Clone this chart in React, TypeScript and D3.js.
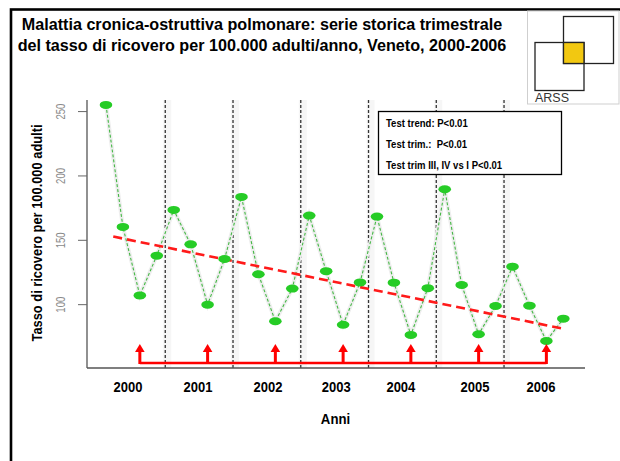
import React from "react";
import * as d3 from "d3";

const titleLines = [
  "Malattia cronica-ostruttiva polmonare: serie storica trimestrale",
  "del tasso di ricovero per 100.000 adulti/anno, Veneto, 2000-2006",
];
const years = ["2000", "2001", "2002", "2003", "2004", "2005", "2006"];
// label positions expressed in quarter-index units
const yearLabelPos = [1.3, 5.43, 9.56, 13.6, 17.41, 21.78, 25.68];
// quarterly rates (Q1..Q4 for each year)
const rates = [
  255.2, 160.4, 107.2, 138.1,
  173.6, 146.9, 100.0, 135.5,
  183.7, 123.6, 87.1, 112.5,
  169.2, 126.0, 84.4, 117.3,
  168.4, 117.1, 76.5, 112.8,
  189.7, 115.3, 77.0, 99.0,
  129.5, 99.2, 71.8, 89.1,
];
const yTicks = [100, 150, 200, 250];
const trendT = [0.43, 26.9];
const trendV = [152.9, 81.6];
const testLines = [
  "Test trend: P<0.01",
  "Test trim.:  P<0.01",
  "Test trim III, IV vs I P<0.01",
];
const yTitle = "Tasso di ricovero per 100.000 adulti";
const xTitle = "Anni";

const SANS = "'Liberation Sans', Arial, sans-serif";

export default function App() {
  const W = 620, H = 461;
  const x = d3.scaleLinear().domain([-1.12, 28.28]).range([87, 585]);
  const y = d3.scaleLinear().domain([50.8, 259]).range([368, 100]);
  const pts = rates.map((v, i) => [x(i), y(v)] as [number, number]);
  const line = d3.line();
  const q3 = d3.range(years.length).map((k) => k * 4 + 2);
  const seps = d3.range(1, years.length).map((k) => k * 4 - 0.5);
  const arrowBase = 363;
  const arrowTip = 344;

  return (
    <div style={{ position: "absolute", left: 0, top: 0 }}>
      <svg width={W} height={H} style={{ display: "block", background: "#fff" }}>
        {/* outer frame */}
        <rect x={11} y={9.5} width={800} height={800} fill="none" stroke="#000" strokeWidth={2.6} />
        {/* logo box */}
        <rect x={527.5} y={11} width={91.5} height={93} fill="#fff" stroke="#cfcfcf" strokeWidth={1} />
        <rect x={563.5} y={16.5} width={50} height={47} fill="none" stroke="#222" strokeWidth={1.3} />
        <rect x={535} y={42.5} width={49} height={48} fill="none" stroke="#222" strokeWidth={1.3} />
        <rect x={563.5} y={42.5} width={20.5} height={21} fill="#F2C811" stroke="#222" strokeWidth={1.3} />
        <text x={535} y={102} fontFamily={SANS} fontSize={12.5} fill="#333">ARSS</text>

        {/* title */}
        {titleLines.map((t, i) => (
          <text key={i} transform={`translate(262,${30 + i * 21}) scale(0.94,1)`} textAnchor="middle"
            fontFamily={SANS} fontWeight="bold" fontSize={17.2} fill="#000">{t}</text>
        ))}

        {/* year separators */}
        {seps.map((s, i) => (
          <g key={i}>
            <rect x={x(s) - 2} y={100} width={8} height={268} fill="#f6f6f6" />
            <line x1={x(s)} x2={x(s)} y1={100} y2={368} stroke="#333" strokeWidth={1.3} strokeDasharray="3,2" />
          </g>
        ))}

        {/* axes */}
        <line x1={87} x2={87} y1={100} y2={368} stroke="#555" strokeWidth={1.3} />
        <line x1={87} x2={585} y1={368} y2={368} stroke="#555" strokeWidth={1.3} />
        {yTicks.map((t) => (
          <g key={t}>
            <line x1={78} x2={87} y1={y(t)} y2={y(t)} stroke="#666" strokeWidth={1} />
            <text transform={`translate(61,${y(t)}) rotate(-90) scale(0.8,1.05)`} textAnchor="middle"
              dominantBaseline="central" fontFamily={SANS} fontSize={12} fill="#8a8a8a">{t}</text>
          </g>
        ))}
        <text transform={`translate(37,233) rotate(-90) scale(0.92,1.05)`} textAnchor="middle" dominantBaseline="central"
          fontFamily={SANS} fontWeight="bold" fontSize={14} fill="#000">{yTitle}</text>
        {years.map((yr, i) => (
          <text key={yr} transform={`translate(${x(yearLabelPos[i])},392) scale(0.84,1)`} textAnchor="middle"
            fontFamily={SANS} fontWeight="bold" fontSize={15.5} fill="#000">{yr}</text>
        ))}
        <text transform={`translate(335.5,424) scale(0.88,1)`} textAnchor="middle" fontFamily={SANS}
          fontWeight="bold" fontSize={15} fill="#000">{xTitle}</text>

        {/* legend */}
        <rect x={378.5} y={111.5} width={183} height={63} fill="#fff" stroke="#000" strokeWidth={1.3} />
        {testLines.map((t, i) => (
          <text key={i} transform={`translate(386,${127 + i * 20.8}) scale(0.9,1)`} fontFamily={SANS}
            fontWeight="bold" fontSize={10.6} fill="#000" style={{ whiteSpace: "pre" }}>{t}</text>
        ))}

        {/* series line */}
        <path d={line(pts) || ""} fill="none" stroke="#eeeeee" strokeWidth={4} />
        <path d={line(pts) || ""} fill="none" stroke="#45b845" strokeWidth={1.1} strokeDasharray="3,2" />

        {/* trend */}
        <line x1={x(trendT[0])} y1={y(trendV[0])} x2={x(trendT[1])} y2={y(trendV[1])}
          stroke="#ff1a1a" strokeWidth={2.6} strokeDasharray="9,5" />

        {/* points */}
        {pts.map(([px, py], i) => (
          <ellipse key={i} cx={px} cy={py} rx={6.3} ry={4} fill="#26cc26" />
        ))}

        {/* arrows */}
        <line x1={x(q3[0])} x2={x(q3[q3.length - 1])} y1={arrowBase} y2={arrowBase} stroke="#ff0000" strokeWidth={2.6} />
        {q3.map((qi) => {
          const ax = x(qi);
          return (
            <g key={qi}>
              <line x1={ax} x2={ax} y1={arrowBase + 1} y2={arrowTip + 6} stroke="#ff0000" strokeWidth={3} />
              <path d={`M${ax - 4.8},${arrowTip + 8} L${ax},${arrowTip} L${ax + 4.8},${arrowTip + 8} Z`} fill="#ff0000" />
            </g>
          );
        })}
      </svg>
    </div>
  );
}
